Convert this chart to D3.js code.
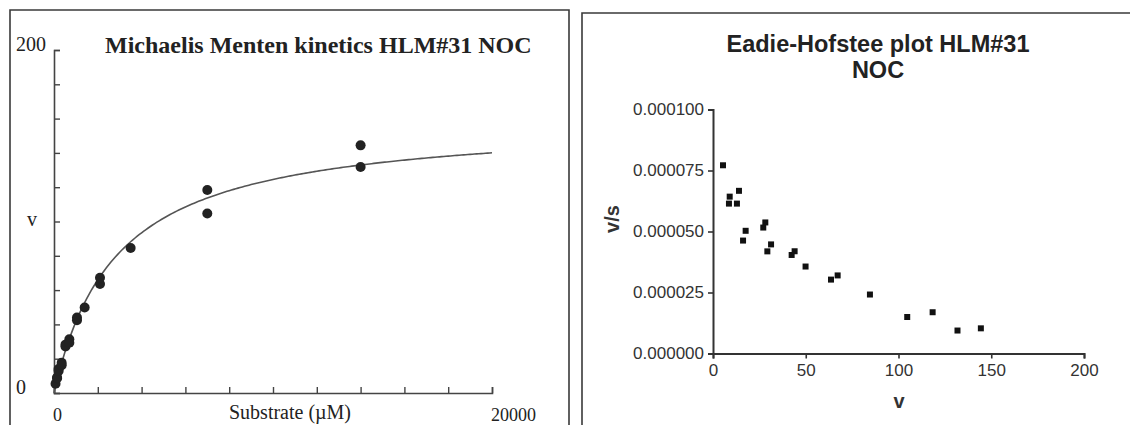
<!DOCTYPE html>
<html>
<head>
<meta charset="utf-8">
<script src="https://cdn.jsdelivr.net/npm/d3@7"></script>
<style>
  html, body { margin: 0; padding: 0; background: #fff; }
  svg { display: block; }
</style>
</head>
<body>
<svg id="chart" width="1130" height="425"></svg>
<script>
// Kinetic measurements (duplicates): substrate concentration (µM) and reaction velocity
const substrate = [70, 140, 140, 210, 210, 350, 350, 525, 525, 700, 700, 1050, 1050, 1400, 2100, 2100, 3500, 7000, 7000, 14000, 14000];
const velocity  = [5.4, 8.6, 9.0, 14.0, 12.9, 17.6, 16.2, 27.1, 28.2, 31.3, 29.3, 42.4, 44.0, 49.9, 63.6, 67.2, 84.6, 104.7, 118.4, 131.8, 144.4];

// The Eadie-Hofstee ratio v/s is taken with s in nM
const nMPerUM = 1000;

// Fitted Michaelis-Menten parameters
const Vmax = 160;
const Km = 2850;

// Axis tick values
const mmXTicks = [0, 2000, 4000, 6000, 8000, 10000, 12000, 14000, 16000, 18000, 20000];
const mmYTicks = [0, 20, 40, 60, 80, 100, 120, 140, 160, 180, 200];
const mmXLabels = [0, 20000];
const mmYLabels = [0, 200];
const ehXTicks = [0, 50, 100, 150, 200];
const ehYTicks = [0, 0.000025, 0.00005, 0.000075, 0.0001];

const svg = d3.select("#chart");

// ---------- Panel frames ----------
const frame = svg.append("g").attr("fill", "none").attr("stroke", "#3a3a3a").attr("stroke-width", 1.6);
frame.append("polyline").attr("points", "10,428 10,10 569,10 569,428");
frame.append("polyline").attr("points", "582,428 582,13 1132,13");

// ---------- Michaelis-Menten panel ----------
const serif = "'Liberation Serif', 'Times New Roman', serif";
const mx = d3.scaleLinear().domain([0, 20000]).range([54, 492]);
const my = d3.scaleLinear().domain([0, 200]).range([393, 50]);

const mm = svg.append("g");

mm.append("text")
  .attr("x", 105).attr("y", 53)
  .attr("font-family", serif).attr("font-weight", "bold").attr("font-size", 24)
  .attr("fill", "#222")
  .text("Michaelis Menten kinetics HLM#31 NOC");

// y axis: ticks pointing inward
const mmYAxis = mm.append("g").attr("transform", `translate(${mx(0)},0)`)
  .call(d3.axisRight(my).tickValues(mmYTicks).tickSize(6).tickFormat(""));
// x axis: ticks pointing upward
const mmXAxis = mm.append("g").attr("transform", `translate(0,${my(0)})`)
  .call(d3.axisTop(mx).tickValues(mmXTicks).tickSize(6).tickFormat(""));
[mmYAxis, mmXAxis].forEach(a => {
  a.select(".domain").attr("stroke", "#444").attr("stroke-width", 1.6);
  a.selectAll(".tick line").attr("stroke", "#444").attr("stroke-width", 1.4);
});

mm.selectAll("text.ylab").data(mmYLabels).join("text")
  .attr("class", "ylab")
  .attr("x", 16).attr("y", d => my(d) + 1)
  .attr("font-family", serif).attr("font-size", 20).attr("fill", "#222")
  .text(d => d);

mm.selectAll("text.xlab").data(mmXLabels).join("text")
  .attr("class", "xlab")
  .attr("x", d => mx(d) - 1).attr("y", 421)
  .attr("font-family", serif).attr("font-size", 18).attr("fill", "#222")
  .text(d => d);

mm.append("text")
  .attr("x", 32).attr("y", 226).attr("text-anchor", "middle")
  .attr("font-family", serif).attr("font-size", 20).attr("fill", "#222")
  .text("v");

mm.append("text")
  .attr("x", 290).attr("y", 419).attr("text-anchor", "middle")
  .attr("font-family", serif).attr("font-size", 20).attr("fill", "#222")
  .text("Substrate (µM)");

// fitted curve v = Vmax·S / (Km + S)
const curveS = d3.range(0, 20001, 100);
mm.append("path")
  .datum(curveS)
  .attr("fill", "none").attr("stroke", "#555").attr("stroke-width", 1.6)
  .attr("d", d3.line().x(s => mx(s)).y(s => my(Vmax * s / (Km + s))));

mm.append("g").selectAll("circle").data(substrate).join("circle")
  .attr("cx", s => mx(s))
  .attr("cy", (s, i) => my(velocity[i]))
  .attr("r", 5)
  .attr("fill", "#222");

// ---------- Eadie-Hofstee panel ----------
const sans = "'Liberation Sans', Arial, sans-serif";
const ex = d3.scaleLinear().domain([0, 200]).range([713, 1084]);
const ey = d3.scaleLinear().domain([0, 0.0001]).range([353.5, 109.5]);

const eh = svg.append("g");

eh.append("text")
  .attr("x", 878).attr("y", 52).attr("text-anchor", "middle")
  .attr("font-family", sans).attr("font-weight", "bold").attr("font-size", 23.5)
  .attr("fill", "#222")
  .text("Eadie-Hofstee plot HLM#31");
eh.append("text")
  .attr("x", 878).attr("y", 78).attr("text-anchor", "middle")
  .attr("font-family", sans).attr("font-weight", "bold").attr("font-size", 23.5)
  .attr("fill", "#222")
  .text("NOC");

const ehYAxis = eh.append("g").attr("transform", `translate(${ex(0)},0)`)
  .call(d3.axisLeft(ey).tickValues(ehYTicks).tickSize(5).tickPadding(4).tickFormat(d3.format(".6f")));
const ehXAxis = eh.append("g").attr("transform", `translate(0,${ey(0)})`)
  .call(d3.axisBottom(ex).tickValues(ehXTicks).tickSize(5).tickPadding(5).tickFormat(d3.format("d")));
[ehYAxis, ehXAxis].forEach(a => {
  a.select(".domain").attr("stroke", "#333").attr("stroke-width", 2);
  a.selectAll(".tick line").attr("stroke", "#333").attr("stroke-width", 1.6);
  a.selectAll(".tick text").attr("font-family", sans).attr("font-size", 17).attr("fill", "#333");
});

eh.append("text")
  .attr("transform", "translate(619,219) rotate(-90)")
  .attr("text-anchor", "middle")
  .attr("font-family", sans).attr("font-weight", "bold").attr("font-size", 20).attr("fill", "#333")
  .text("v/s");

eh.append("text")
  .attr("x", 899).attr("y", 408).attr("text-anchor", "middle")
  .attr("font-family", sans).attr("font-weight", "bold").attr("font-size", 20).attr("fill", "#333")
  .text("v");

// v plotted against v/s as small squares
const ehPoints = velocity.map((v, i) => ({ v: v, ratio: v / (substrate[i] * nMPerUM) }));
const square = d3.symbol().type(d3.symbolSquare).size(36);
eh.append("g").attr("class", "eh-points")
  .selectAll("path").data(ehPoints).join("path")
  .attr("transform", d => `translate(${ex(d.v)},${ey(d.ratio)})`)
  .attr("d", square)
  .attr("fill", "#111");
</script>
</body>
</html>
